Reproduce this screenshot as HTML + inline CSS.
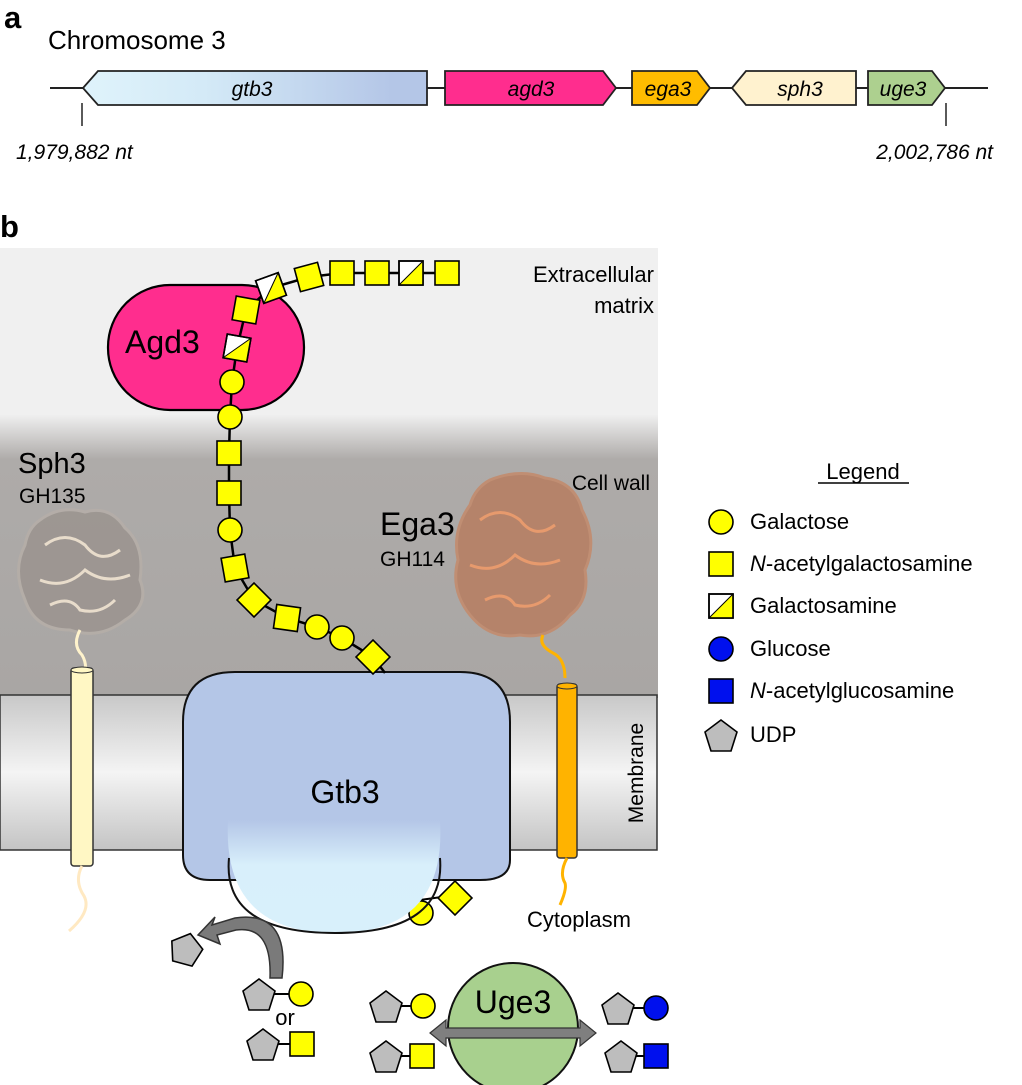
<!DOCTYPE html>
<html><head><meta charset="utf-8"><style>
html,body{margin:0;padding:0;background:#fff}
svg{display:block}
text{font-family:"Liberation Sans",Arial,sans-serif;fill:#000}
</style></head><body>
<svg width="1022" height="1085" viewBox="0 0 1022 1085" xmlns="http://www.w3.org/2000/svg">
<defs>
<linearGradient id="gtb" x1="0" x2="1"><stop offset="0" stop-color="#dff3fb"/><stop offset="0.35" stop-color="#d4eaf7"/><stop offset="0.9" stop-color="#b4c6e7"/></linearGradient>
<linearGradient id="bg" x1="0" y1="0" x2="0" y2="1">
<stop offset="0" stop-color="#f0f0f0"/><stop offset="0.37" stop-color="#f0f0f0"/><stop offset="0.47" stop-color="#aeaba9"/><stop offset="1" stop-color="#a9a6a4"/></linearGradient>
<linearGradient id="mem" x1="0" y1="0" x2="0" y2="1"><stop offset="0" stop-color="#c8c8c8"/><stop offset="0.5" stop-color="#f4f4f4"/><stop offset="1" stop-color="#c4c4c4"/></linearGradient>
<linearGradient id="lobe" x1="0" y1="0" x2="0" y2="1"><stop offset="0" stop-color="#b4c6e7"/><stop offset="0.4" stop-color="#d8effb"/><stop offset="1" stop-color="#d8f0fb"/></linearGradient>
<g id="sq"><rect x="-12" y="-12" width="24" height="24" fill="#ffff00" stroke="#000" stroke-width="1.6"/></g>
<g id="hsq"><rect x="-12" y="-12" width="24" height="24" fill="#fff" stroke="#000" stroke-width="1.6"/><polygon points="12,-12 12,12 -12,12" fill="#ffff00"/><rect x="-12" y="-12" width="24" height="24" fill="none" stroke="#000" stroke-width="1.6"/><line x1="12" y1="-12" x2="-12" y2="12" stroke="#000" stroke-width="1"/></g>
<g id="ci"><circle r="12" fill="#ffff00" stroke="#000" stroke-width="1.6"/></g>
<g id="pe"><polygon points="0,-17 16,-5 10,14 -10,14 -16,-5" fill="#bdbdbd" stroke="#000" stroke-width="1.6"/></g>
</defs>

<!-- Panel a -->
<text x="4" y="28" font-size="31" font-weight="bold">a</text>
<text x="48" y="49" font-size="26">Chromosome 3</text>
<line x1="50" y1="88" x2="988" y2="88" stroke="#222" stroke-width="2"/>
<polygon points="83,88 98,71 427,71 427,105 98,105" fill="url(#gtb)" stroke="#222" stroke-width="1.8"/>
<polygon points="445,71 603,71 616,88 603,105 445,105" fill="#ff2d8e" stroke="#222" stroke-width="1.8"/>
<polygon points="632,71 697,71 710,88 697,105 632,105" fill="#ffbc00" stroke="#222" stroke-width="1.8"/>
<polygon points="732,88 746,71 856,71 856,105 746,105" fill="#fff2cf" stroke="#222" stroke-width="1.8"/>
<polygon points="868,71 932,71 945,88 932,105 868,105" fill="#add08f" stroke="#222" stroke-width="1.8"/>
<g font-size="21" font-style="italic" text-anchor="middle">
<text x="252" y="96">gtb3</text><text x="531" y="96">agd3</text><text x="668" y="96">ega3</text><text x="800" y="96">sph3</text><text x="903" y="96">uge3</text>
</g>
<line x1="82" y1="103" x2="82" y2="126" stroke="#222" stroke-width="1.5"/>
<line x1="946" y1="103" x2="946" y2="126" stroke="#222" stroke-width="1.5"/>
<text x="16" y="159" font-size="21" font-style="italic">1,979,882 nt</text>
<text x="993" y="159" font-size="21" font-style="italic" text-anchor="end">2,002,786 nt</text>

<!-- Panel b -->
<text x="0" y="237" font-size="31" font-weight="bold">b</text>
<rect x="0" y="248" width="658" height="450" fill="url(#bg)"/>
<text x="654" y="282" font-size="22" text-anchor="end">Extracellular</text>
<text x="654" y="313" font-size="22" text-anchor="end">matrix</text>
<text x="650" y="490" font-size="21" text-anchor="end">Cell wall</text>
<text x="18" y="473" font-size="29">Sph3</text>
<text x="19" y="503" font-size="21">GH135</text>
<text x="380" y="535" font-size="32">Ega3</text>
<text x="380" y="566" font-size="21">GH114</text>

<!-- protein blobs -->
<path d="M40,520 Q60,505 85,512 Q110,505 125,528 Q145,545 140,580 Q150,605 125,620 Q100,640 70,630 Q35,630 25,600 Q12,570 25,545 Q28,528 40,520Z" fill="#9c9590" stroke="#b5aea8" stroke-width="3" opacity="0.9"/>
<path d="M45,545 q20,-15 40,0 q15,20 35,5 M40,580 q25,10 45,-10 q20,15 45,5 M50,605 q20,-10 30,5 q20,5 35,-10" stroke="#e8dccb" stroke-width="3" fill="none"/>
<path d="M490,480 Q520,468 545,478 Q575,482 582,510 Q598,540 585,570 Q590,600 570,615 Q550,640 520,635 Q490,640 470,615 Q450,590 458,560 Q452,530 470,505 Q475,488 490,480Z" fill="#b5836a" stroke="#c08e73" stroke-width="3"/>
<path d="M480,520 q20,-15 40,0 q15,20 35,5 M470,565 q25,10 45,-10 q20,15 45,5 M485,600 q20,-10 30,5 q20,5 35,-10" stroke="#e79a6d" stroke-width="3" fill="none"/>
<path d="M80,630 q-8,15 2,25 q6,10 2,22" stroke="#fff3cc" stroke-width="3" fill="none"/>
<path d="M543,635 q-5,10 10,18 q12,6 12,25" stroke="#ffb300" stroke-width="3" fill="none"/>

<!-- membrane -->
<rect x="0" y="695" width="657" height="155" fill="url(#mem)" stroke="#333" stroke-width="1.5"/>
<text transform="translate(643,773) rotate(-90)" font-size="21" text-anchor="middle">Membrane</text>

<!-- pillars -->
<rect x="71" y="668" width="22" height="198" rx="3" fill="#fff7c4" stroke="#333" stroke-width="1.5"/>
<ellipse cx="82" cy="670" rx="11" ry="3" fill="#fff7c4" stroke="#333" stroke-width="1"/>
<path d="M82,866 q-8,15 2,30 q8,15 -15,35" stroke="#ffe9c2" stroke-width="3" fill="none"/>
<rect x="557" y="684" width="20" height="174" rx="3" fill="#ffb300" stroke="#333" stroke-width="1.5"/>
<ellipse cx="567" cy="686" rx="10" ry="3" fill="#ffb300" stroke="#333" stroke-width="1"/>
<path d="M567,858 q-8,15 -2,25 q2,6 -5,22" stroke="#ffb300" stroke-width="3" fill="none"/>

<!-- Gtb3 -->
<path d="M235,672 L460,672 Q510,672 510,722 L510,860 Q510,880 480,880 L210,880 Q183,880 183,855 L183,722 Q183,672 235,672Z" fill="#b4c6e7" stroke="#111" stroke-width="2"/>
<line x1="420" y1="900" x2="456" y2="895" stroke="#000" stroke-width="2"/>
<use href="#ci" x="421" y="913"/>
<g transform="translate(455,898) rotate(45)"><use href="#sq"/></g>
<path d="M228,820 L440,820 Q447,933 335,933 Q222,933 228,820 Z" fill="url(#lobe)"/>
<path d="M229,858 Q222,933 335,933 Q446,933 440,858" fill="none" stroke="#111" stroke-width="2"/>
<text x="345" y="803" font-size="32" text-anchor="middle">Gtb3</text>
<text x="527" y="927" font-size="22">Cytoplasm</text>

<!-- Agd3 -->
<rect x="108" y="285" width="196" height="125" rx="62" fill="#ff2d8e" stroke="#000" stroke-width="2.2"/>
<text x="125" y="353" font-size="32">Agd3</text>

<!-- chain -->
<polyline points="447,273 411,273 377,273 342,273 309,277 271,288 246,310 237,348 232,382 230,417 229,453 229,493 230,530 235,568 254,600 287,618 317,627 342,638 373,657 385,673" fill="none" stroke="#000" stroke-width="2.5"/>
<use href="#sq" x="447" y="273"/>
<use href="#hsq" x="411" y="273"/>
<use href="#sq" x="377" y="273"/>
<use href="#sq" x="342" y="273"/>
<g transform="translate(309,277) rotate(-15)"><use href="#sq"/></g>
<g transform="translate(271,288) rotate(-20)"><use href="#hsq"/></g>
<g transform="translate(246,310) rotate(10)"><use href="#sq"/></g>
<g transform="translate(237,348) rotate(10)"><use href="#hsq"/></g>
<use href="#ci" x="232" y="382"/>
<use href="#ci" x="230" y="417"/>
<use href="#sq" x="229" y="453"/>
<use href="#sq" x="229" y="493"/>
<use href="#ci" x="230" y="530"/>
<g transform="translate(235,568) rotate(-10)"><use href="#sq"/></g>
<g transform="translate(254,600) rotate(45)"><use href="#sq"/></g>
<g transform="translate(287,618) rotate(8)"><use href="#sq"/></g>
<use href="#ci" x="317" y="627"/>
<use href="#ci" x="342" y="638"/>
<g transform="translate(373,657) rotate(45)"><use href="#sq"/></g>

<!-- Legend -->
<text x="863" y="479" font-size="22" text-anchor="middle">Legend</text>
<line x1="818" y1="483" x2="909" y2="483" stroke="#000" stroke-width="1.5"/>
<use href="#ci" x="721" y="522"/>
<use href="#sq" x="721" y="564"/>
<use href="#hsq" x="721" y="606"/>
<circle cx="721" cy="649" r="12" fill="#0010ee" stroke="#000" stroke-width="1.6"/>
<rect x="709" y="679" width="24" height="24" fill="#0010ee" stroke="#000" stroke-width="1.6"/>
<use href="#pe" x="721" y="737"/>
<g font-size="22">
<text x="750" y="529">Galactose</text>
<text x="750" y="571"><tspan font-style="italic">N</tspan>-acetylgalactosamine</text>
<text x="750" y="613">Galactosamine</text>
<text x="750" y="656">Glucose</text>
<text x="750" y="698"><tspan font-style="italic">N</tspan>-acetylglucosamine</text>
<text x="750" y="742">UDP</text>
</g>

<!-- bottom -->
<g transform="translate(186,950) rotate(15)"><use href="#pe"/></g>
<path d="M282,978 Q290,910 235,918 L212,925 L215,917 L198,935 L220,944 L217,935 L236,930 Q272,925 270,978 Z" fill="#7a7a7a" stroke="#333" stroke-width="1.5"/>
<line x1="268" y1="994" x2="300" y2="994" stroke="#000" stroke-width="2"/>
<use href="#pe" x="259" y="996"/><use href="#ci" x="301" y="994"/>
<text x="285" y="1025" font-size="22" text-anchor="middle">or</text>
<line x1="272" y1="1044" x2="302" y2="1044" stroke="#000" stroke-width="2"/>
<use href="#pe" x="263" y="1046"/><use href="#sq" x="302" y="1044"/>

<circle cx="513" cy="1028" r="65" fill="#a8d08e" stroke="#111" stroke-width="2"/>
<text x="513" y="1013" font-size="32" text-anchor="middle">Uge3</text>
<polygon points="430,1033 446,1020 446,1028 580,1028 580,1020 596,1033 580,1046 580,1038 446,1038 446,1046" fill="#7f7f7f" stroke="#333" stroke-width="1.2"/>
<line x1="395" y1="1006" x2="424" y2="1006" stroke="#000" stroke-width="2"/>
<use href="#pe" x="386" y="1008"/><use href="#ci" x="423" y="1006"/>
<line x1="395" y1="1056" x2="422" y2="1056" stroke="#000" stroke-width="2"/>
<use href="#pe" x="386" y="1058"/><use href="#sq" x="422" y="1056"/>
<line x1="627" y1="1008" x2="656" y2="1008" stroke="#000" stroke-width="2"/>
<use href="#pe" x="618" y="1010"/><circle cx="656" cy="1008" r="12" fill="#0010ee" stroke="#000" stroke-width="1.6"/>
<line x1="630" y1="1056" x2="650" y2="1056" stroke="#000" stroke-width="2"/>
<use href="#pe" x="621" y="1058"/><rect x="644" y="1044" width="24" height="24" fill="#0010ee" stroke="#000" stroke-width="1.6"/>
</svg>
</body></html>
